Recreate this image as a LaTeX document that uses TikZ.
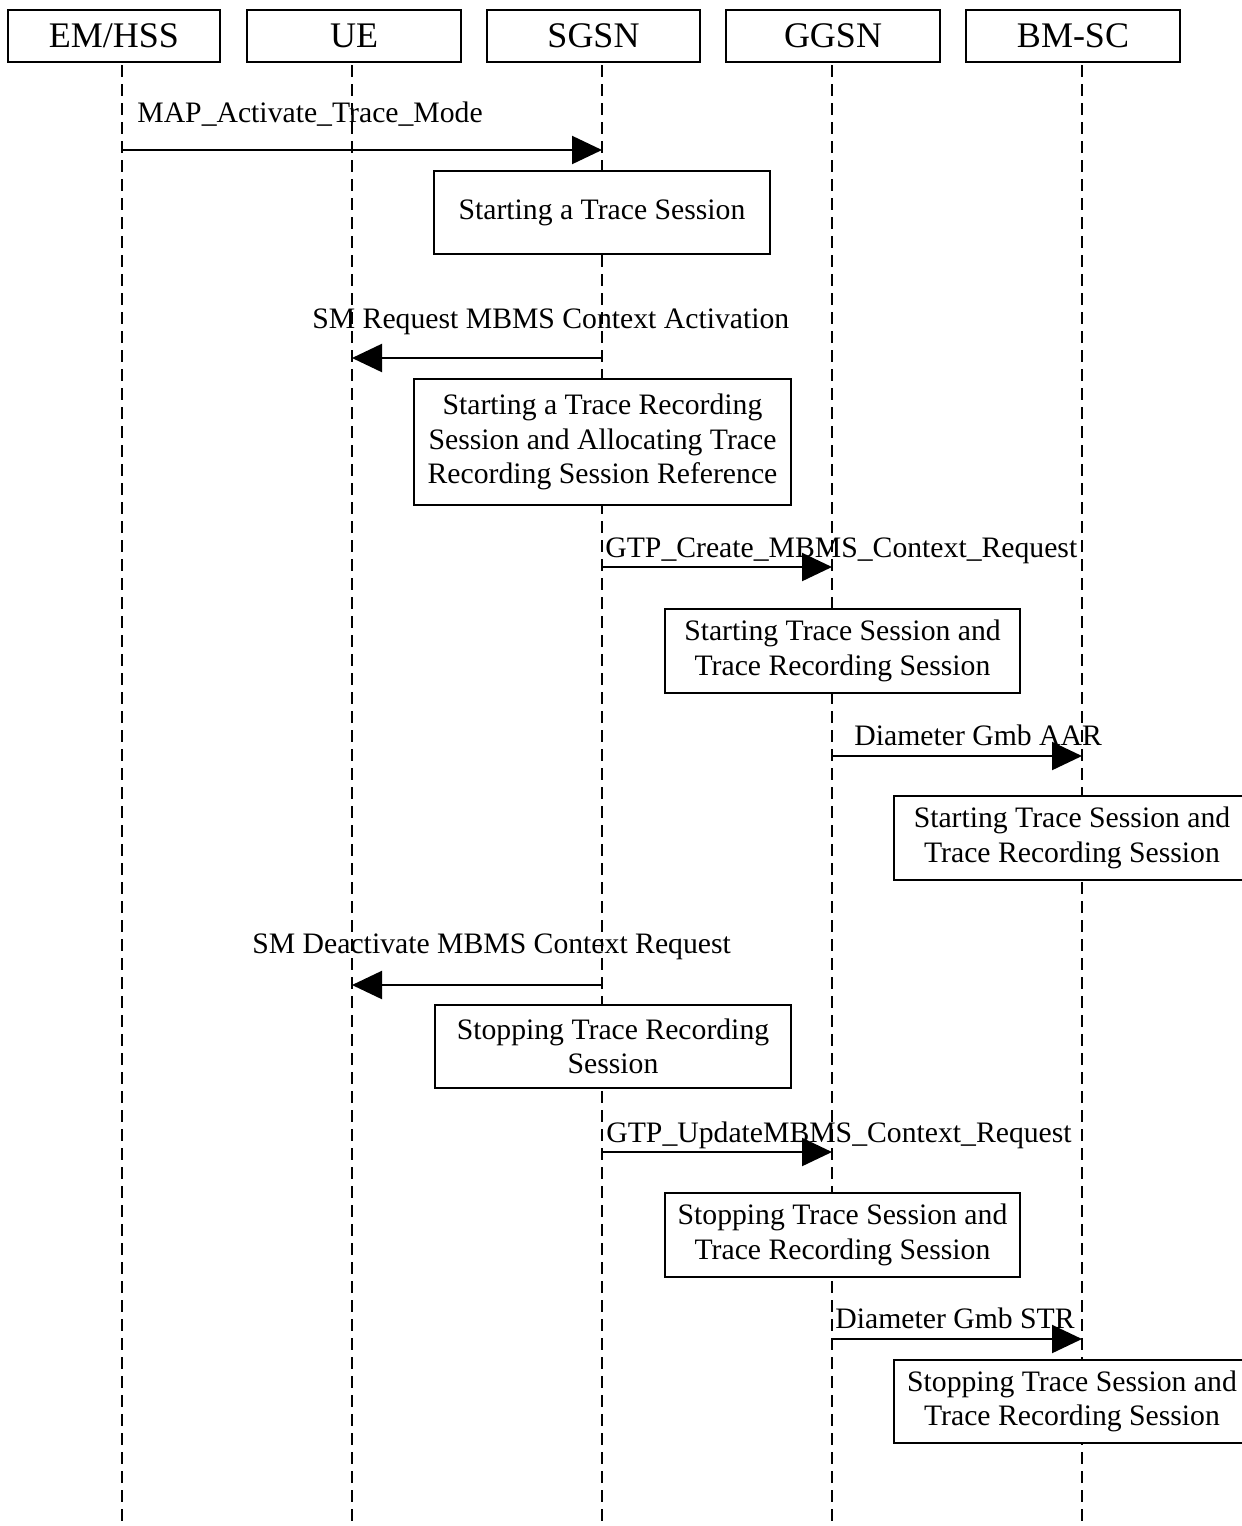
\documentclass[tikz,border=0pt]{standalone}
\usepackage{fontspec}
\setmainfont{Liberation Serif}
\usetikzlibrary{arrows.meta}
\begin{document}
\begin{tikzpicture}[x=0.5pt,y=-0.5pt,
  hdr/.style={draw, line width=1.1pt, fill=white, minimum height=26pt, inner sep=0pt, font=\fontsize{18}{21}\selectfont},
  actbox/.style={draw, line width=1.1pt, fill=white, inner sep=0pt, align=center, font=\fontsize{14.85}{17.25}\selectfont},
  lbl/.style={inner sep=0pt, anchor=base west, font=\fontsize{14.85}{17.25}\selectfont},
  life/.style={line width=1.1pt, dash pattern=on 6pt off 3.5pt},
  msg/.style={line width=1.1pt, -{Triangle[length=15pt,width=14pt]}}]
\useasboundingbox (0,0) rectangle (1242,1526);
\begin{scope}
\clip (0,0) rectangle (1242,1526);
% header boxes
\node[hdr, minimum width=106pt] (em) at (114,36) {EM/HSS};
\node[hdr, minimum width=107pt] (ue) at (354,36) {UE};
\node[hdr, minimum width=106.5pt] (sgsn) at (593.5,36) {SGSN};
\node[hdr, minimum width=107pt] (ggsn) at (833,36) {GGSN};
\node[hdr, minimum width=107pt] (bmsc) at (1073,36) {BM-SC};
% lifelines
\foreach \n/\x in {em/122, ue/352, sgsn/602, ggsn/832, bmsc/1082} {
  \coordinate (\n-top) at (\x,65);
  \coordinate (\n-bot) at (\x,1526);
  \draw[life] (\n-top) -- (\n-bot);
}
% message 1
\coordinate (m1a) at (122,150); \coordinate (m1b) at (602,150);
\draw[msg] (m1a) -- (m1b);
\node[lbl] (l1) at (137,122) {MAP\_Activate\_Trace\_Mode};
\node[actbox, minimum width=168pt, minimum height=41.5pt] (b1) at (602,212.5) {Starting a Trace Session};
% message 2
\coordinate (m2a) at (602,358); \coordinate (m2b) at (352,358);
\draw[msg] (m2a) -- (m2b);
\node[lbl] (l2) at (312,328) {SM Request MBMS Context Activation};
\node[actbox, minimum width=188.5pt, minimum height=63pt] (b2) at (602.5,442) {Starting a Trace Recording\\Session and Allocating Trace\\Recording Session Reference};
% message 3
\coordinate (m3a) at (602,567); \coordinate (m3b) at (832,567);
\draw[msg] (m3a) -- (m3b);
\node[lbl] (l3) at (605,557) {GTP\_Create\_MBMS\_Context\_Request};
\node[actbox, minimum width=177.5pt, minimum height=42pt] (b3) at (842.5,651) {Starting Trace Session and\\Trace Recording Session};
% message 4
\coordinate (m4a) at (832,756); \coordinate (m4b) at (1082,756);
\draw[msg] (m4a) -- (m4b);
\node[lbl] (l4) at (854,745) {Diameter Gmb AAR};
\node[actbox, minimum width=178pt, minimum height=42pt] (b4) at (1072,838) {Starting Trace Session and\\Trace Recording Session};
% message 5
\coordinate (m5a) at (602,985); \coordinate (m5b) at (352,985);
\draw[msg] (m5a) -- (m5b);
\node[lbl] (l5) at (252,953) {SM Deactivate MBMS Context Request};
\node[actbox, minimum width=178pt, minimum height=41.5pt] (b5) at (613,1046.5) {Stopping Trace Recording\\Session};
% message 6
\coordinate (m6a) at (602,1152); \coordinate (m6b) at (832,1152);
\draw[msg] (m6a) -- (m6b);
\node[lbl] (l6) at (606,1142) {GTP\_UpdateMBMS\_Context\_Request};
\node[actbox, minimum width=177.5pt, minimum height=42pt] (b6) at (842.5,1235) {Stopping Trace Session and\\Trace Recording Session};
% message 7
\coordinate (m7a) at (832,1339); \coordinate (m7b) at (1082,1339);
\draw[msg] (m7a) -- (m7b);
\node[lbl] (l7) at (835,1328) {Diameter Gmb STR};
\node[actbox, minimum width=178pt, minimum height=41.5pt] (b7) at (1072,1401.5) {Stopping Trace Session and\\Trace Recording Session};
\end{scope}
\end{tikzpicture}
\end{document}
